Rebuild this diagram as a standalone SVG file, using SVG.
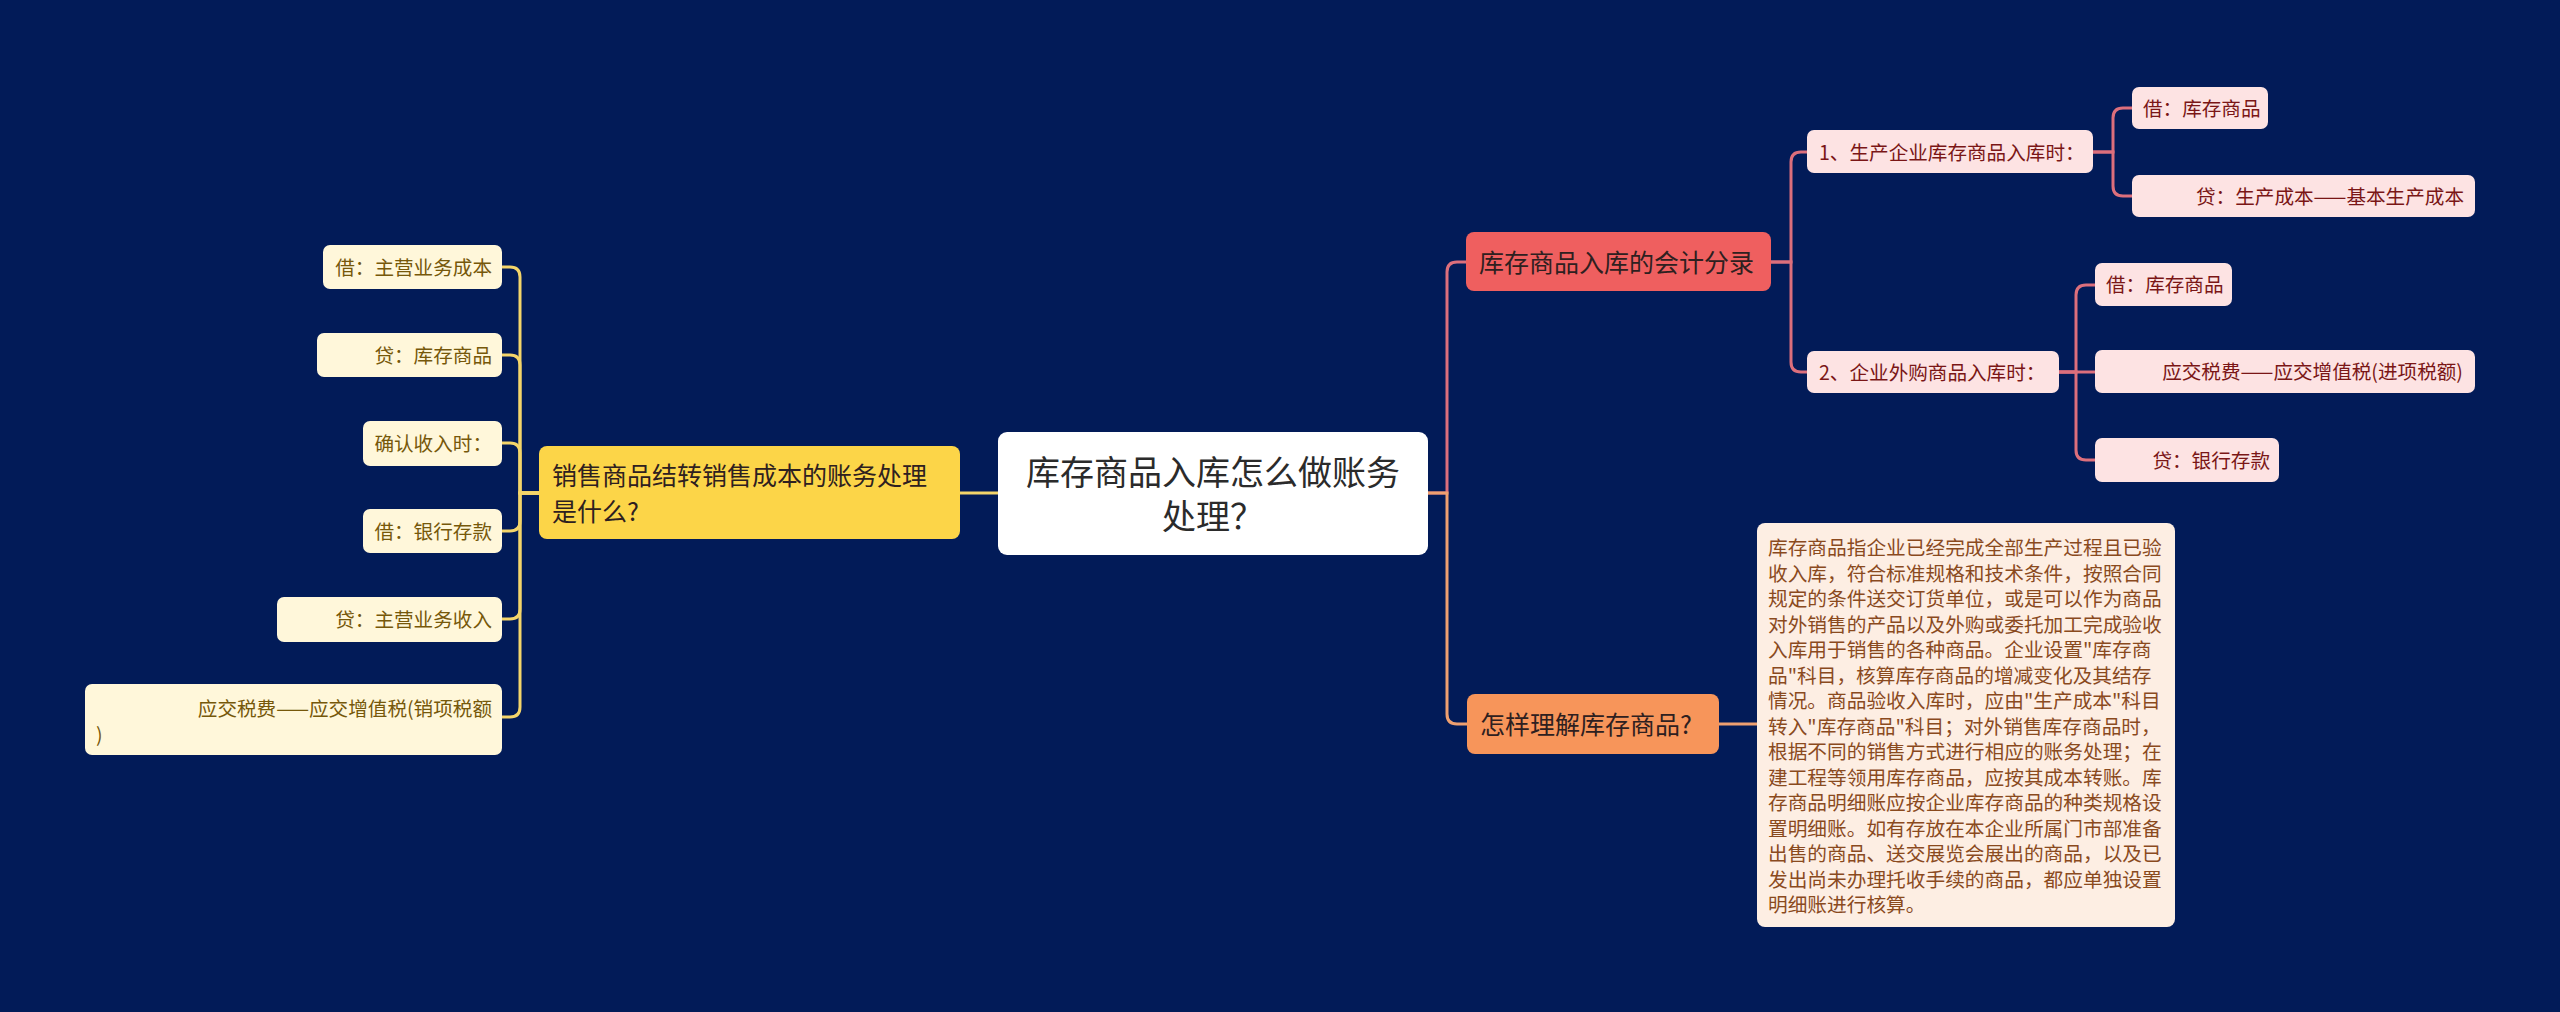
<svg xmlns="http://www.w3.org/2000/svg" width="2560" height="1012" viewBox="0 0 2560 1012">
<style>
text{font-family:"Noto Sans CJK SC","Liberation Sans",sans-serif;}
.c{fill:none;stroke-width:3;}
.pk{stroke:#dc6f7c;}
.or{stroke:#eea070;}
.ye{stroke:#f4d56a;}
.leafR rect{fill:#fde3e3;}
.leafR text{font-size:19.6px;fill:#7a1616;}
.leafL rect{fill:#fff7da;}
.leafL text{font-size:19.6px;fill:#76580a;}
.l1 text{font-size:25px;fill:#2e2020;}
</style>
<rect x="0" y="0" width="2560" height="1012" fill="#021b58"/>
<g id="connectors">
<path class="c pk" d="M1428,493 H1447 V272 Q1447,262 1457,262 H1466"/>
<path class="c or" d="M1428,493 H1447 V714 Q1447,724 1457,724 H1468"/>
<path class="c pk" d="M1771,262 H1791 V162 Q1791,152 1801,152 H1807"/>
<path class="c pk" d="M1771,262 H1791 V362 Q1791,372 1801,372 H1807"/>
<path class="c pk" d="M2093,152 H2113 V118 Q2113,108 2123,108 H2132"/>
<path class="c pk" d="M2093,152 H2113 V186 Q2113,196 2123,196 H2132"/>
<path class="c pk" d="M2059,372 H2076 V295 Q2076,285 2086,285 H2095"/>
<path class="c pk" d="M2059,372 H2095"/>
<path class="c pk" d="M2059,372 H2076 V450 Q2076,460 2086,460 H2095"/>
<path class="c or" d="M1719,724 H1757"/>
<path class="c ye" d="M998,493 H960"/>
<path class="c ye" d="M539,493 H520 V277 Q520,267 510,267 H502"/>
<path class="c ye" d="M539,493 H520 V365 Q520,355 510,355 H502"/>
<path class="c ye" d="M539,493 H520 V453 Q520,443 510,443 H502"/>
<path class="c ye" d="M539,493 H520 V521 Q520,531 510,531 H502"/>
<path class="c ye" d="M539,493 H520 V609 Q520,619 510,619 H502"/>
<path class="c ye" d="M539,493 H520 V707 Q520,717 510,717 H502"/>
</g>
<g id="root">
<rect x="998" y="432" width="430" height="123" rx="9" fill="#ffffff"/>
<text x="1213" y="485" font-size="34" fill="#2b2b2b" text-anchor="middle">库存商品入库怎么做账务</text>
<text x="1213" y="529" font-size="34" fill="#2b2b2b" text-anchor="middle">处理？</text>
</g>
<g id="n-entry" class="l1">
<rect x="1466" y="232" width="305" height="59" rx="8" fill="#ef5f5f"/>
<text x="1479" y="272">库存商品入库的会计分录</text>
</g>
<g id="n-understand" class="l1">
<rect x="1467" y="694" width="252" height="60" rx="8" fill="#f7955a"/>
<text x="1480" y="734">怎样理解库存商品?</text>
</g>
<g id="n-sales" class="l1">
<rect x="539" y="446" width="421" height="93" rx="8" fill="#fcd548"/>
<text x="552" y="485">销售商品结转销售成本的账务处理</text>
<text x="552" y="521">是什么?</text>
</g>
<g id="n-prod" class="leafR">
<rect x="1807" y="130" width="286" height="43" rx="7"/>
<text x="1819" y="159.5">1、生产企业库存商品入库时：</text>
</g>
<g id="n-purch" class="leafR">
<rect x="1807" y="351" width="252" height="42" rx="7"/>
<text x="1819" y="379.5">2、企业外购商品入库时：</text>
</g>
<g id="n-r1" class="leafR">
<rect x="2132" y="87" width="136" height="42" rx="7"/>
<text x="2143" y="115.5">借：库存商品</text>
</g>
<g id="n-r2" class="leafR">
<rect x="2132" y="175" width="343" height="42" rx="7"/>
<text x="2464" y="203.5" text-anchor="end">贷：生产成本——基本生产成本</text>
</g>
<g id="n-r3" class="leafR">
<rect x="2095" y="263" width="137" height="43" rx="7"/>
<text x="2106" y="292">借：库存商品</text>
</g>
<g id="n-r4" class="leafR">
<rect x="2095" y="350" width="380" height="43" rx="7"/>
<text x="2463" y="378.5" text-anchor="end">应交税费——应交增值税(进项税额)</text>
</g>
<g id="n-r5" class="leafR">
<rect x="2095" y="438" width="184" height="44" rx="7"/>
<text x="2270" y="467.5" text-anchor="end">贷：银行存款</text>
</g>
<g id="n-desc">
<rect x="1757" y="523" width="418" height="404" rx="8" fill="#fdeee3"/>
<g font-size="19.7" fill="#8a4a1e">
<text x="1768" y="555">库存商品指企业已经完成全部生产过程且已验</text>
<text x="1768" y="580.5">收入库，符合标准规格和技术条件，按照合同</text>
<text x="1768" y="606">规定的条件送交订货单位，或是可以作为商品</text>
<text x="1768" y="631.5">对外销售的产品以及外购或委托加工完成验收</text>
<text x="1768" y="657">入库用于销售的各种商品。企业设置"库存商</text>
<text x="1768" y="682.5">品"科目，核算库存商品的增减变化及其结存</text>
<text x="1768" y="708">情况。商品验收入库时，应由"生产成本"科目</text>
<text x="1768" y="733.5">转入"库存商品"科目；对外销售库存商品时，</text>
<text x="1768" y="759">根据不同的销售方式进行相应的账务处理；在</text>
<text x="1768" y="784.5">建工程等领用库存商品，应按其成本转账。库</text>
<text x="1768" y="810">存商品明细账应按企业库存商品的种类规格设</text>
<text x="1768" y="835.5">置明细账。如有存放在本企业所属门市部准备</text>
<text x="1768" y="861">出售的商品、送交展览会展出的商品，以及已</text>
<text x="1768" y="886.5">发出尚未办理托收手续的商品，都应单独设置</text>
<text x="1768" y="912">明细账进行核算。</text>
</g>
</g>
<g id="n-l1" class="leafL">
<rect x="323" y="245" width="179" height="44" rx="7"/>
<text x="492" y="274.5" text-anchor="end">借：主营业务成本</text>
</g>
<g id="n-l2" class="leafL">
<rect x="317" y="333" width="185" height="44" rx="7"/>
<text x="492" y="362.5" text-anchor="end">贷：库存商品</text>
</g>
<g id="n-l3" class="leafL">
<rect x="363" y="421" width="139" height="45" rx="7"/>
<text x="492" y="451" text-anchor="end">确认收入时：</text>
</g>
<g id="n-l4" class="leafL">
<rect x="363" y="509" width="139" height="44" rx="7"/>
<text x="492" y="538.5" text-anchor="end">借：银行存款</text>
</g>
<g id="n-l5" class="leafL">
<rect x="277" y="597" width="225" height="45" rx="7"/>
<text x="492" y="627" text-anchor="end">贷：主营业务收入</text>
</g>
<g id="n-l6" class="leafL">
<rect x="85" y="684" width="417" height="71" rx="7"/>
<text x="492" y="716" text-anchor="end">应交税费——应交增值税(销项税额</text>
<text x="96" y="742">)</text>
</g>
</svg>
